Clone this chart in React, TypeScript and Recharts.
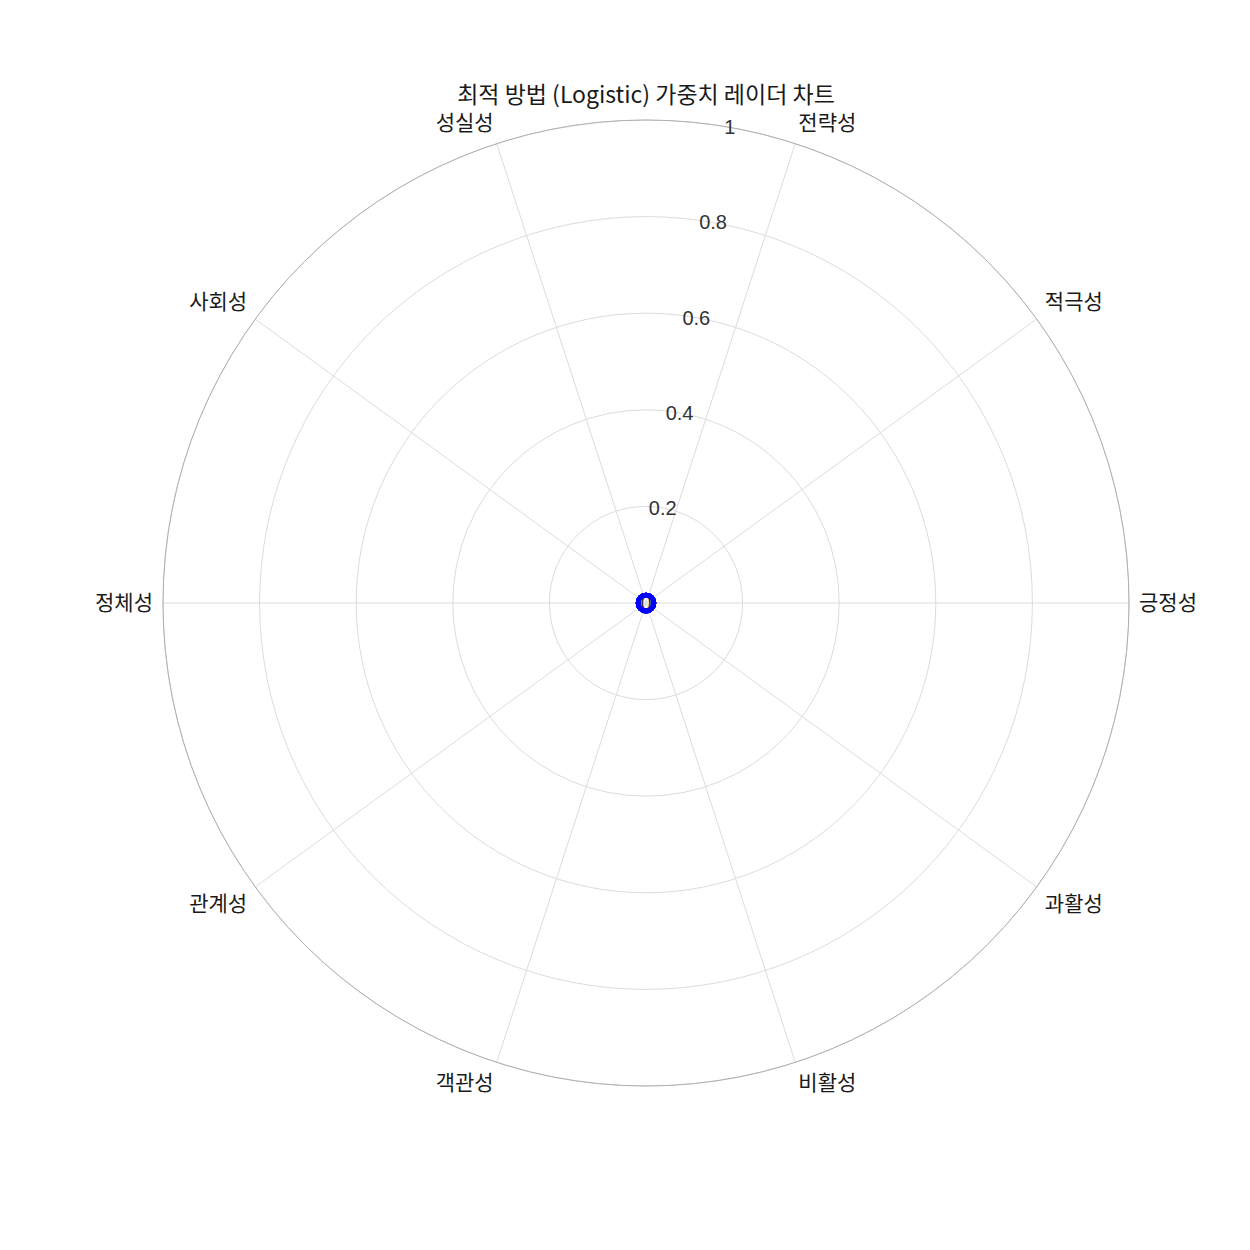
import React from 'react'
import { RadarChart, Radar, PolarGrid, PolarAngleAxis, PolarRadiusAxis, Customized } from 'recharts'

const categories = ['긍정성', '적극성', '전략성', '성실성', '사회성', '정체성', '관계성', '객관성', '비활성', '과활성']
const weights = [0, 0, 0, 0, 0, 0, 0, 0, 0, 0]
const radiusTicks = [0, 0.2, 0.4, 0.6, 0.8, 1]

const W = 1250
const H = 1250
const CX = 646
const CY = 603
const R = 483
const FONT = '"Liberation Sans", "Noto Sans CJK KR", sans-serif'
const KFONT = '"Noto Sans CJK KR", "Liberation Sans", sans-serif'

const data = categories.map((name, i) => ({ name, value: weights[i] }))

const AngleTick = (props: any) => {
  const angle = props.payload.coordinate
  const rad = (angle * Math.PI) / 180
  const cos = Math.cos(rad)
  const sin = Math.sin(rad)
  const r = R + 10
  const x = CX + r * cos
  const y = CY - r * sin
  const anchor = Math.abs(cos) < 0.05 ? 'middle' : cos > 0 ? 'start' : 'end'
  let dy = 7
  if (sin > 0.05) dy = -4
  else if (sin < -0.05) dy = 18
  return (
    <text x={x} y={y + dy} textAnchor={anchor} fontSize={21} fill="#1a1a1a" fontFamily={KFONT}>
      {props.payload.value}
    </text>
  )
}

const RadiusTick = (props: any) => (
  <text x={props.x} y={props.y + 7} textAnchor="middle" fontSize={20} fill="#333" fontFamily={FONT}>
    {String(props.payload.value)}
  </text>
)

const OuterRing = () => <circle cx={CX} cy={CY} r={R} fill="none" stroke="#b0b0b0" strokeWidth={1} />

const RingDot = (props: any) => (
  <circle key={props.index} cx={props.cx} cy={props.cy} r={8} fill="none" stroke="#0000ff" strokeWidth={4.5} />
)

export default function App() {
  return (
    <div style={{ position: 'absolute', left: 0, top: 0, width: W, height: H, background: '#fff' }}>
      <RadarChart width={W} height={H} data={data} cx={CX} cy={CY} outerRadius={R} startAngle={36} endAngle={396}>
        <text x={CX} y={103} textAnchor="middle" fontSize={23} fill="#1a1a1a" fontFamily={KFONT}>
          최적 방법 (Logistic) 가중치 레이더 차트
        </text>
        <PolarGrid gridType="circle" stroke="#dcdcdc" strokeWidth={1} />
        <Customized component={OuterRing} />
        <PolarAngleAxis dataKey="name" tick={AngleTick} tickLine={false} axisLine={false} />
        <PolarRadiusAxis
          angle={80}
          domain={[0, 1]}
          ticks={radiusTicks as any}
          tickCount={6}
          tick={RadiusTick}
          axisLine={false}
          tickLine={false}
        />
        <Radar
          dataKey="value"
          stroke="#0000ff"
          strokeWidth={2}
          fill="none"
          fillOpacity={0}
          isAnimationActive={false}
          dot={RingDot}
        />
      </RadarChart>
    </div>
  )
}
